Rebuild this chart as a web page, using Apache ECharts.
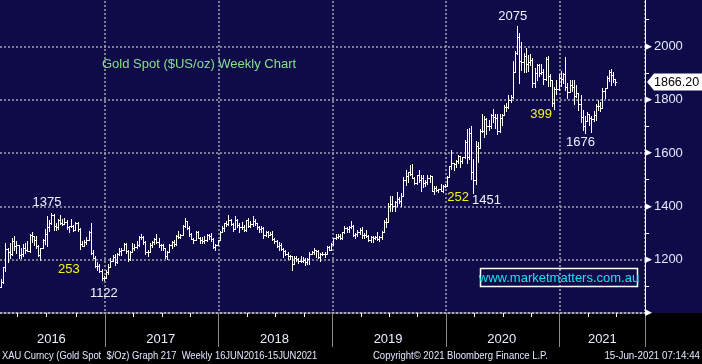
<!DOCTYPE html>
<html>
<head>
<meta charset="utf-8">
<script src="https://cdn.jsdelivr.net/npm/echarts@6/dist/echarts.min.js"></script>
<style>
html,body{margin:0;padding:0;background:#0f0b49;}
#c{width:702px;height:364px;}
</style>
</head>
<body>
<div id="c"></div>
<script>
// ---------------- DATA ----------------
// first weekly bar (Friday) and number of weekly slots on the axis
const firstWeek = '2016-01-29';
const axisWeeks = 295;
const yearLabels = ['2016', '2017', '2018', '2019', '2020', '2021'];
const titleText = 'Gold Spot ($US/oz) Weekly Chart';
const lastPrice = 1866.20;

// weekly bars [open, high, low, close]
const bars2016 = [
[1097,1127,1096,1116],[1116,1174,1111,1173],[1173,1263,1157,1239],[1239,1242,1191,1229],[1229,1261,1208,1221],
[1221,1280,1218,1271],[1271,1287,1236,1250],[1250,1270,1226,1255],[1255,1256,1208,1217],
[1217,1243,1208,1221],[1221,1260,1214,1243],[1243,1262,1225,1235],[1235,1271,1231,1232],[1232,1297,1227,1294],
[1294,1304,1265,1289],[1289,1290,1255,1273],[1273,1290,1244,1252],[1252,1254,1212,1216],
[1216,1244,1200,1243],[1243,1276,1242,1275],[1275,1315,1258,1298],[1298,1362,1251,1322],
[1322,1350,1307,1339],[1339,1375,1335,1366],[1366,1370,1310,1327],[1327,1339,1310,1323],[1323,1352,1315,1350],
[1350,1368,1334,1336],[1336,1352,1330,1335],[1335,1358,1333,1341],[1341,1348,1316,1321],
[1321,1327,1303,1326],[1326,1352,1321,1328],[1328,1330,1308,1310],[1310,1343,1310,1338],[1338,1342,1309,1316],
[1316,1318,1241,1257],[1257,1270,1250,1251],[1251,1273,1250,1267],[1267,1285,1260,1275],
[1275,1308,1274,1304],[1304,1338,1223,1225],[1225,1236,1205,1208],[1208,1213,1171,1178],
[1178,1191,1160,1177],[1177,1182,1155,1159],[1159,1165,1122,1133],[1133,1140,1124,1133],[1133,1163,1133,1152]
];
const bars2017 = [
[1152,1182,1147,1173],[1173,1207,1172,1196],[1196,1219,1195,1210],[1210,1220,1180,1190],
[1190,1226,1188,1220],[1220,1244,1218,1234],[1234,1245,1216,1238],[1238,1264,1235,1257],
[1257,1263,1224,1234],[1234,1236,1195,1201],[1201,1234,1198,1229],[1229,1261,1228,1243],[1243,1260,1236,1249],
[1249,1270,1245,1254],[1254,1288,1250,1286],[1286,1295,1278,1284],[1284,1288,1257,1268],
[1268,1270,1221,1228],[1228,1238,1214,1228],[1228,1262,1227,1254],[1254,1270,1246,1268],
[1268,1281,1259,1279],[1279,1296,1264,1266],[1266,1281,1248,1254],[1254,1259,1236,1256],[1256,1260,1236,1242],
[1242,1243,1205,1212],[1212,1233,1204,1228],[1228,1257,1228,1254],[1254,1270,1243,1268],
[1268,1274,1251,1258],[1258,1291,1255,1289],[1289,1306,1280,1285],[1285,1298,1281,1291],
[1291,1330,1291,1325],[1325,1357,1323,1346],[1346,1346,1314,1320],[1320,1326,1288,1297],[1297,1300,1277,1279],
[1279,1282,1261,1274],[1274,1306,1274,1303],[1303,1306,1280,1280],[1280,1284,1263,1272],
[1272,1284,1264,1269],[1269,1287,1264,1275],[1275,1297,1271,1294],[1294,1298,1278,1288],
[1288,1299,1271,1279],[1279,1280,1243,1248],[1248,1260,1236,1256],[1256,1275,1255,1275],[1275,1309,1274,1303]
];
const bars2018 = [
[1303,1326,1302,1320],[1320,1338,1307,1338],[1338,1344,1325,1333],[1333,1366,1331,1349],
[1349,1354,1331,1333],[1333,1337,1307,1315],[1315,1362,1315,1347],[1347,1351,1321,1330],
[1330,1338,1303,1322],[1322,1341,1316,1324],[1324,1330,1307,1313],[1313,1350,1309,1347],[1347,1356,1322,1325],
[1325,1346,1321,1332],[1332,1365,1326,1346],[1346,1353,1331,1336],[1336,1338,1316,1323],
[1323,1326,1302,1315],[1315,1325,1304,1320],[1320,1322,1282,1291],[1291,1308,1287,1302],
[1302,1306,1286,1294],[1294,1303,1291,1298],[1298,1309,1274,1279],[1279,1280,1261,1269],[1269,1272,1246,1253],
[1253,1265,1238,1255],[1255,1262,1236,1241],[1241,1243,1211,1231],[1231,1236,1219,1223],
[1223,1228,1204,1214],[1214,1219,1202,1212],[1212,1213,1160,1184],[1184,1214,1183,1206],[1206,1214,1196,1201],
[1201,1206,1187,1196],[1196,1212,1190,1194],[1194,1211,1191,1200],[1200,1206,1181,1192],
[1192,1208,1183,1203],[1203,1228,1185,1222],[1222,1233,1221,1227],[1227,1243,1220,1235],
[1235,1237,1211,1232],[1232,1237,1206,1209],[1209,1225,1196,1222],[1222,1230,1219,1223],[1223,1230,1211,1222],
[1222,1250,1221,1248],[1248,1250,1235,1238],[1238,1263,1238,1257],[1257,1283,1256,1280]
];
const bars2019 = [
[1280,1298,1277,1285],[1285,1298,1280,1288],[1288,1295,1279,1282],[1282,1304,1276,1303],
[1303,1326,1301,1318],[1318,1324,1304,1315],[1315,1327,1302,1322],[1322,1346,1320,1328],
[1328,1331,1290,1294],[1294,1299,1281,1298],[1298,1311,1290,1302],[1302,1320,1298,1313],[1313,1324,1281,1292],
[1292,1300,1281,1291],[1291,1310,1285,1290],[1290,1292,1271,1275],[1275,1289,1266,1286],
[1286,1290,1267,1280],[1280,1290,1279,1286],[1286,1303,1275,1277],[1277,1287,1269,1284],[1284,1306,1279,1305],
[1305,1348,1305,1341],[1341,1358,1321,1341],[1341,1411,1341,1400],[1400,1439,1382,1409],
[1409,1438,1382,1400],[1400,1420,1381,1416],[1416,1452,1402,1426],[1426,1434,1411,1419],
[1419,1449,1400,1440],[1440,1510,1437,1497],[1497,1535,1480,1513],[1513,1528,1492,1527],[1527,1555,1516,1520],
[1520,1557,1506,1507],[1507,1510,1484,1488],[1488,1518,1482,1516],[1516,1535,1490,1497],
[1497,1519,1459,1505],[1505,1517,1474,1489],[1489,1499,1475,1490],[1490,1518,1483,1505],
[1505,1517,1490,1514],[1514,1514,1456,1459],[1459,1478,1446,1468],[1468,1475,1456,1462],[1462,1466,1452,1464],
[1464,1484,1458,1459],[1459,1481,1455,1476],[1476,1485,1472,1478],[1478,1514,1477,1511]
];
const bars2020 = [
[1511,1553,1511,1552],[1552,1611,1540,1562],[1562,1564,1536,1557],[1557,1573,1546,1571],[1571,1591,1563,1589],
[1589,1590,1547,1570],[1570,1584,1562,1584],[1584,1649,1581,1643],[1643,1689,1563,1586],
[1586,1692,1576,1674],[1674,1703,1504,1530],[1530,1576,1451,1498],[1498,1645,1484,1625],
[1625,1640,1567,1620],[1620,1690,1619,1683],[1683,1747,1680,1683],[1683,1738,1660,1726],
[1726,1730,1670,1700],[1700,1722,1685,1702],[1702,1745,1692,1743],[1743,1765,1717,1735],[1735,1745,1693,1730],
[1730,1745,1671,1683],[1683,1745,1680,1730],[1730,1745,1705,1743],[1743,1779,1741,1771],
[1771,1789,1757,1774],[1774,1818,1768,1799],[1799,1816,1792,1810],[1810,1945,1808,1902],[1902,1984,1902,1975],
[1975,2075,1971,2035],[2035,2050,1863,1944],[1944,2015,1912,1940],[1940,1976,1902,1964],
[1964,1992,1902,1934],[1934,1966,1906,1941],[1941,1973,1930,1950],[1950,1955,1849,1862],
[1862,1917,1848,1900],[1900,1933,1873,1930],[1930,1933,1890,1900],[1900,1932,1895,1902],[1902,1915,1860,1879],
[1879,1960,1875,1951],[1951,1965,1850,1889],[1889,1898,1853,1872],[1872,1875,1775,1788],
[1788,1848,1764,1839],[1839,1875,1820,1839],[1839,1896,1837,1881],[1881,1906,1853,1877]
];
const bars2021 = [
[1877,1900,1864,1898],[1898,1959,1836,1849],[1849,1863,1808,1828],[1828,1875,1828,1855],[1855,1875,1831,1848],
[1848,1875,1785,1814],[1814,1855,1810,1824],[1824,1824,1760,1784],[1784,1816,1717,1734],
[1734,1760,1687,1700],[1700,1740,1676,1719],[1719,1755,1719,1745],[1745,1745,1705,1732],
[1732,1740,1677,1729],[1729,1758,1721,1744],[1744,1785,1725,1777],[1777,1798,1763,1777],[1777,1790,1756,1768],
[1768,1843,1768,1831],[1831,1845,1808,1844],[1844,1890,1843,1881],[1881,1913,1870,1905],
[1905,1916,1855,1892],[1892,1903,1866,1877],[1877,1878,1855,1866.2]
];

// annotations: [text, week index, price level, colour key]
const notes = [
  ['2075', 234, 2114, 'w'], ['1375', 21, 1416, 'w'], ['253', 31, 1162, 'y'], ['1122', 47, 1075, 'w'],
  ['252', 209, 1433, 'y'], ['1451', 222, 1422, 'w'], ['399', 247, 1744, 'y'], ['1676', 265, 1640, 'w']
];

// ---------------- BUILD ----------------
const FONT = '"Liberation Sans", Arial, sans-serif';
const allBars = [].concat(bars2016, bars2017, bars2018, bars2019, bars2020, bars2021);
const barData = allBars.map((b, i) => [i, b[0], b[1], b[2], b[3]]);

const weeks = [];
const t0 = Date.parse(firstWeek);
for (let i = 0; i < axisWeeks; i++) {
  weeks.push(new Date(t0 + i * 7 * 864e5).toISOString().slice(0, 10));
}
const yr = s => +s.slice(0, 4);
const qt = s => yr(s) * 4 + Math.floor((+s.slice(5, 7) - 1) / 3);
const quarterEnd = weeks.map((d, i) => i < weeks.length - 1 && qt(d) !== qt(weeks[i + 1]));
const yearEnd = weeks.map((d, i) => i < weeks.length - 1 && yr(d) !== yr(weeks[i + 1]));
// year groups: split at the year-end ticks
const starts = [0];
yearEnd.forEach((v, i) => { if (v) starts.push(i); });
const labelAt = {};
starts.forEach((s, k) => {
  const e = k + 1 < starts.length ? starts[k + 1] - 1 : weeks.length - 1;
  labelAt[Math.floor((s + e) / 2)] = yearLabels[k];
});

const gridLine = { color: '#a2a2b4', type: [2, 2], width: 1.5 };

const chart = echarts.init(document.getElementById('c'), null, { renderer: 'canvas', width: 702, height: 364 });
chart.setOption({
  backgroundColor: '#0f0b49',
  animation: false,
  textStyle: { fontFamily: FONT },
  title: {
    text: titleText, left: 102, top: 58, padding: 0,
    textStyle: { color: '#86e08a', fontSize: 13, fontWeight: 'normal', fontFamily: FONT }
  },
  grid: { left: 0, right: 57, top: -7, bottom: 51, containLabel: false, outerBoundsMode: 'none' },
  xAxis: [
    {
      type: 'category', data: weeks, boundaryGap: true, position: 'bottom',
      axisLine: { show: true, lineStyle: { color: '#b8b8c4', type: [2, 2], width: 1.5 } },
      axisTick: { show: true, interval: i => quarterEnd[i], length: 4, lineStyle: { color: '#ffffff', width: 1 } },
      axisLabel: { show: false },
      splitLine: { show: false }
    },
    {
      type: 'category', data: weeks, boundaryGap: true, position: 'bottom', offset: 0,
      axisLine: { show: false },
      axisTick: { show: true, interval: i => yearEnd[i], length: 34, lineStyle: { color: '#8a8a8a', width: 1 } },
      axisLabel: {
        show: true, interval: i => labelAt[i] !== undefined,
        formatter: (v, i) => labelAt[i] || '',
        color: '#e8eeff', fontSize: 13, margin: 20, fontFamily: FONT
      },
      splitLine: { show: true, interval: i => yearEnd[i], lineStyle: gridLine }
    }
  ],
  yAxis: {
    type: 'value', position: 'right', min: 1000, max: 2200, interval: 200,
    axisLine: { show: true, lineStyle: { color: '#ffffff', width: 1 } },
    axisTick: { show: true, length: 4, lineStyle: { color: '#ffffff' } },
    minorTick: { show: true, splitNumber: 2, length: 4, lineStyle: { color: '#ffffff' } },
    splitLine: { show: true, lineStyle: gridLine },
    axisLabel: {
      margin: 0,
      formatter: v => (v === 2200 ? '' : v === 1000 ? '{a|▶}' : '{a|▶}{b|' + v + '}'),
      rich: {
        a: { fontSize: 9, color: '#ffffff', fontFamily: 'DejaVu Sans' },
        b: { fontSize: 13, color: '#e2eaff', fontFamily: FONT, padding: [0, 0, 0, 2] }
      }
    }
  },
  series: [{
    type: 'custom', xAxisIndex: 0, yAxisIndex: 0, data: barData,
    encode: { x: 0, y: [1, 2, 3, 4] }, z: 5,
    renderItem: (params, api) => {
      const i = api.value(0);
      const pH = api.coord([i, api.value(2)]);
      const pL = api.coord([i, api.value(3)]);
      const pO = api.coord([i, api.value(1)]);
      const pC = api.coord([i, api.value(4)]);
      const x = Math.round(pH[0]) + 0.5;
      const yo = Math.round(pO[1]) + 0.5, yc = Math.round(pC[1]) + 0.5;
      const st = { stroke: '#ffffff', lineWidth: 1 };
      return {
        type: 'group', children: [
          { type: 'line', shape: { x1: x, y1: Math.round(pH[1]), x2: x, y2: Math.round(pL[1]) + 1 }, style: st },
          { type: 'line', shape: { x1: x - 1.5, y1: yo, x2: x, y2: yo }, style: st },
          { type: 'line', shape: { x1: x, y1: yc, x2: x + 1.5, y2: yc }, style: st }
        ]
      };
    }
  }]
});

// graphics anchored through the chart's own scales
const tagY = chart.convertToPixel({ yAxisIndex: 0 }, lastPrice);
const axisX = chart.convertToPixel({ gridIndex: 0 }, [axisWeeks - 1, 1000])[0] + chart.getModel().getComponent('xAxis', 0).axis.getBandWidth() / 2;
const bottomY = chart.convertToPixel({ yAxisIndex: 0 }, 1000);
const footStyle = (text, align) => ({
  text: text, x: 0, y: 0, align: align, textAlign: align, verticalAlign: 'middle', textVerticalAlign: 'middle',
  fill: '#e2e8ff', font: '10.5px ' + FONT
});
const elements = [
  { type: 'rect', z: -100, silent: true, shape: { x: 0, y: bottomY, width: 702, height: 364 - bottomY }, style: { fill: '#000000' } },
  { type: 'text', x: 2, y: 356, scaleX: 0.895, style: footStyle('XAU Curncy (Gold Spot  $/Oz) Graph 217  Weekly 16JUN2016-15JUN2021', 'left') },
  { type: 'text', x: 373, y: 356, scaleX: 0.905, style: footStyle('Copyright\u00a9 2021 Bloomberg Finance L.P.', 'left') },
  { type: 'text', x: 700, y: 356, scaleX: 0.93, style: footStyle('15-Jun-2021 07:14:44', 'right') },
  { type: 'rect', z: 20, shape: { x: 480.5, y: 268.5, width: 157, height: 18 }, style: { fill: 'none', stroke: '#ffffff', lineWidth: 1.5 } },
  { type: 'text', z: 20, style: { text: 'www.marketmatters.com.au', x: 559, y: 278, align: 'center', verticalAlign: 'middle', textAlign: 'center', textVerticalAlign: 'middle', fill: '#16e4f4', font: '13px ' + FONT } },
  { type: 'polygon', z: 20, shape: { points: [[axisX + 2, tagY], [axisX + 9, tagY - 8.5], [702, tagY - 8.5], [702, tagY + 8.5], [axisX + 9, tagY + 8.5]] }, style: { fill: '#ffffff' } },
  { type: 'text', z: 21, style: { text: lastPrice.toFixed(2), x: axisX + 9, y: tagY + 0.5, align: 'left', verticalAlign: 'middle', textAlign: 'left', textVerticalAlign: 'middle', fill: '#000000', font: '12.5px ' + FONT } }
];
notes.forEach(n => {
  const p = chart.convertToPixel({ gridIndex: 0 }, [n[1], n[2]]);
  elements.push({
    type: 'text', z: 20,
    style: { text: n[0], x: p[0], y: p[1], align: 'center', verticalAlign: 'middle', textAlign: 'center', textVerticalAlign: 'middle', fill: n[3] === 'y' ? '#f4f41c' : '#eef2ff', font: '13px ' + FONT }
  });
});
chart.setOption({ graphic: { elements: elements } });
</script>
</body>
</html>
